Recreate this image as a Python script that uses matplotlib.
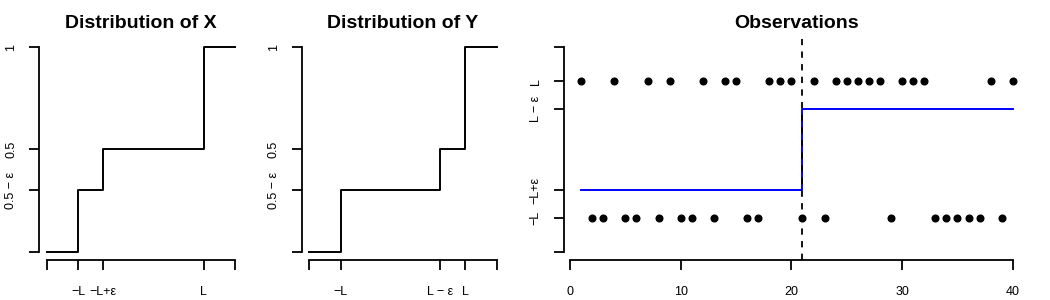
import matplotlib
matplotlib.use("Agg")
import matplotlib.pyplot as plt

plt.rcParams['font.family'] = ['Liberation Sans', 'DejaVu Sans']

# ---- data ----
L = 1.0
eps = 0.4
# CDF of X: breakpoints and levels
x_break_X = [-1.5, -1.0, -0.6, 1.0, 1.5]
cdf_X = [0.0, 0.3, 0.5, 1.0, 1.0]
# CDF of Y
x_break_Y = [-1.5, -1.0, 0.6, 1.0, 1.5]
cdf_Y = [0.0, 0.3, 0.5, 1.0, 1.0]

xticks_X = [-1.5, -1.0, -0.6, 1.0, 1.5]
xlabels_X = ['', '\u2212L', '\u2212L+\u03b5', 'L', '']
xticks_Y = [-1.5, -1.0, 0.6, 1.0, 1.5]
xlabels_Y = ['', '\u2212L', 'L \u2212 \u03b5', 'L', '']
yticks_cdf = [0.0, 0.3, 0.5, 1.0]
ylabels_cdf = ['', '0.5 \u2212 \u03b5', '0.5', '1']

# observations (time 1..40), +1 => L, -1 => -L
obs_sign = [1, -1, -1, 1, -1, -1, 1, -1, 1, -1,
            -1, 1, -1, 1, 1, -1, -1, 1, 1, 1,
            -1, 1, -1, 1, 1, 1, 1, 1, -1, 1,
            1, 1, -1, -1, -1, -1, -1, 1, -1, 1]
change_point = 21
fit_before = -L + eps
fit_after = L - eps
yticks_obs = [-1.5, -1.0, -0.6, 0.6, 1.0, 1.5]
ylabels_obs = ['', '\u2212L', '\u2212L+\u03b5', 'L \u2212 \u03b5', 'L', '']
xticks_obs = [0, 10, 20, 30, 40]

fig = plt.figure(figsize=(10.5, 3.0), dpi=100)

def r_style(ax, xb, yb):
    for s in ['top', 'right']:
        ax.spines[s].set_visible(False)
    ax.spines['left'].set_bounds(*yb)
    ax.spines['bottom'].set_bounds(*xb)
    for s in ['left', 'bottom']:
        ax.spines[s].set_linewidth(1.3)
    ax.tick_params(axis='both', direction='out', length=7, width=1.3, labelsize=9)
    ax.tick_params(axis='x', pad=12)
    ax.tick_params(axis='y', pad=9)
    for lab in ax.get_yticklabels():
        lab.set_rotation(90)
        lab.set_va('center')

def pad(lo, hi):
    d = (hi - lo) * 0.04
    return lo - d, hi + d

# Panel 1
ax1 = fig.add_axes([0.0376, 0.1333, 0.1933, 0.737])
ax1.plot(x_break_X, cdf_X, drawstyle='steps-post', color='black', lw=1.4)
ax1.set_xlim(*pad(-1.5, 1.5))
ax1.set_ylim(*pad(0, 1))
ax1.set_xticks(xticks_X)
ax1.set_xticklabels(xlabels_X)
ax1.set_yticks(yticks_cdf)
ax1.set_yticklabels(ylabels_cdf)
r_style(ax1, (-1.5, 1.5), (0, 1))
ax1.set_title('Distribution of X', fontsize=14, fontweight='bold', pad=8)

# Panel 2
ax2 = fig.add_axes([0.2876, 0.1333, 0.1924, 0.737])
ax2.plot(x_break_Y, cdf_Y, drawstyle='steps-post', color='black', lw=1.4)
ax2.set_xlim(*pad(-1.5, 1.5))
ax2.set_ylim(*pad(0, 1))
ax2.set_xticks(xticks_Y)
ax2.set_xticklabels(xlabels_Y)
ax2.set_yticks(yticks_cdf)
ax2.set_yticklabels(ylabels_cdf)
r_style(ax2, (-1.5, 1.5), (0, 1))
ax2.set_title('Distribution of Y', fontsize=14, fontweight='bold', pad=8)

# Panel 3
ax3 = fig.add_axes([0.537, 0.1333, 0.444, 0.737])
t = list(range(1, len(obs_sign) + 1))
vals = [s * L for s in obs_sign]
ax3.plot(t, vals, 'o', color='black', markersize=4.8, linestyle='none')
ax3.plot([t[0], change_point, change_point, t[-1]],
         [fit_before, fit_before, fit_after, fit_after], color='#0000ff', lw=1.4)
ax3.axvline(change_point, color='black', lw=1.3, linestyle=(0, (3.5, 3.5)))
ax3.set_xlim(*pad(1, 40))
ax3.set_ylim(*pad(-1.5, 1.5))
ax3.set_xticks(xticks_obs)
ax3.set_yticks(yticks_obs)
ax3.set_yticklabels(ylabels_obs)
r_style(ax3, (0, 40), (-1.5, 1.5))
ax3.set_title('Observations', fontsize=14, fontweight='bold', pad=8)

fig.savefig('out.png', dpi=100)
